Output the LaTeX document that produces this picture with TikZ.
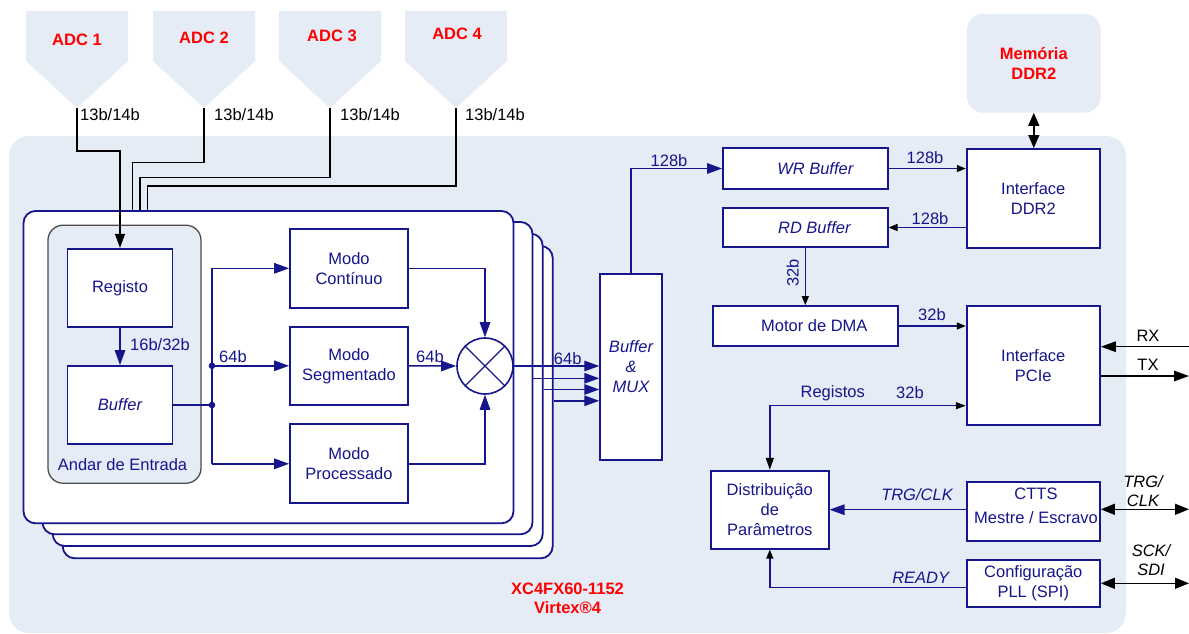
\documentclass[tikz,border=0pt]{standalone}
\usepackage{fontspec}
\setmainfont{Liberation Sans}
\usetikzlibrary{arrows.meta,calc}
\definecolor{navy}{RGB}{22,22,140}
\definecolor{bgblue}{RGB}{230,236,246}
\definecolor{adcred}{RGB}{255,0,0}
\tikzset{
  bgpanel/.style={fill=bgblue,draw=none,inner sep=0pt},
  card/.style={draw=navy,line width=1.8pt,fill=white,rounded corners=12pt,minimum width=490,minimum height=312.3,inner sep=0pt},
  box/.style={draw=navy,line width=1.8pt,fill=white,inner sep=0pt,align=center,text=navy},
  itbox/.style={box,font=\fontsize{16.5}{20}\selectfont\itshape},
  ntxt/.style={text=navy,inner sep=0pt,align=center},
  ktxt/.style={text=black,inner sep=0pt,align=center},
  redb/.style={text=adcred,inner sep=0pt,align=center,font=\fontsize{16.5}{19}\selectfont\bfseries},
  bline/.style={draw=navy,line width=1.4pt},
  kline/.style={draw=black,line width=1.4pt},
  bigN/.style={-{Triangle[length=15pt,width=10.5pt]}},
  smallK/.style={-{Triangle[length=9pt,width=7pt,color=black]}},
}
\begin{document}
\begin{tikzpicture}[x=1pt,y=-1pt,font=\fontsize{16.5}{20}\selectfont]
\useasboundingbox (0,0) rectangle (1189,634);

% backgrounds
\node[bgpanel,minimum width=1117,minimum height=497,rounded corners=20pt] (fpga) at (567.5,384.5) {};
\node[bgpanel,minimum width=133.7,minimum height=98.7,rounded corners=16pt,text=adcred,align=center,font=\fontsize{16.5}{19.3}\selectfont\bfseries] (mem) at (1033.8,63.3) {Memória\\DDR2};

% ADC shapes
\foreach \L in {26,153,279,405}
  \fill[bgblue] (\L,11) -- ++(102,0) -- ++(0,50) -- ++(-51,47) -- ++(-51,-47) -- cycle;
\node[redb] (adc1) at (77,40) {ADC 1};
\node[redb] (adc2) at (204,38.3) {ADC 2};
\node[redb] (adc3) at (332,36) {ADC 3};
\node[redb] (adc4) at (457,34) {ADC 4};
\coordinate (adc1p) at (77,108);
\coordinate (adc2p) at (204,108);
\coordinate (adc3p) at (330,108);
\coordinate (adc4p) at (456,108);
\node[ktxt,anchor=west] (w1) at (80,115) {13b/14b};
\node[ktxt,anchor=west] (w2) at (214,115) {13b/14b};
\node[ktxt,anchor=west] (w3) at (340,115) {13b/14b};
\node[ktxt,anchor=west] (w4) at (465,115) {13b/14b};

% cards
\node[card] (card4) at (307.7,402.15) {};
\node[card] (card3) at (297.7,389.85) {};
\node[card] (card2) at (287.5,378.15) {};
\node[card] (card1) at (268.5,367.15) {};

% input stage
\node[draw=black!70,line width=1.3pt,fill=bgblue,rounded corners=15pt,minimum width=153,minimum height=258,inner sep=0pt] (andar) at (124.5,354.2) {};
\node[ntxt] (andarlbl) at (122.5,464.3) {Andar de Entrada};
\node[box,minimum width=105,minimum height=78.5] (reg) at (120,288) {Registo};
\node[itbox,minimum width=105,minimum height=78] (buf) at (120,405) {Buffer};

% modes
\node[box,minimum width=118,minimum height=78.7] (mc) at (349,268.3) {Modo\\Contínuo};
\node[box,minimum width=118,minimum height=78.3] (ms) at (349,365.8) {Modo\\Segmentado};
\node[box,minimum width=118,minimum height=79] (mp) at (349,463.8) {Modo\\Processado};
\node[circle,draw=navy,line width=1.6pt,fill=white,minimum size=56,inner sep=0pt] (circ) at (485,366) {};
\draw[bline] (circ.north west) -- (circ.south east) (circ.north east) -- (circ.south west);

% right blocks
\node[itbox,minimum width=61.7,minimum height=186] (bmux) at (631,367) {Buffer\\\&\\MUX};
\node[itbox,minimum width=164.7,minimum height=41] (wr) at (805.3,168.5) {\hspace*{20pt}WR Buffer};
\node[itbox,minimum width=164.7,minimum height=39.6] (rd) at (805.3,227.5) {\hspace*{18pt}RD Buffer};
\node[box,minimum width=185.3,minimum height=40] (dma) at (805.3,326) {\hspace*{18pt}Motor de DMA};
\node[box,minimum width=133.3,minimum height=98.7] (ddr) at (1033.3,198.3) {Interface\\DDR2};
\node[box,minimum width=133.3,minimum height=118.7] (pcie) at (1033.3,365.3) {Interface\\PCIe};
\node[box,minimum width=117.7,minimum height=78] (dist) at (769.8,509.7) {Distribuição\\de\\Parâmetros};
\node[box,minimum width=133.3,minimum height=58.7] (ctts) at (1033.3,511.7) {};
\node[ntxt,font=\fontsize{16.5}{23.4}\selectfont] (cttstxt) at (1036,506) {CTTS\\Mestre / Escravo};
\node[box,minimum width=133.3,minimum height=46.7,font=\fontsize{16.5}{20.6}\selectfont] (pll) at (1033.3,583.3) {Configuração\\PLL (SPI)};

% ADC connectors
\draw[kline,-{Triangle[length=14pt,width=10pt]}] (adc1p) |- (120,151) -- (reg.north);
\draw[kline] (adc2p) |- (132.7,162.5) -- (132.7,0 |- card1.north);
\draw[kline] (adc3p) |- (140,177.5) -- (140,0 |- card1.north);
\draw[kline] (adc4p) |- (147.7,186) -- (147.7,0 |- card1.north);

% input stage connectors
\draw[bline,bigN] (reg.south) -- (buf.north);
\node[ntxt,anchor=west] (l16) at (130,345) {16b/32b};
\coordinate (j1) at (mc.west -| 212,0);
\coordinate (j2) at (ms.west -| 212,0);
\coordinate (j3) at (mp.west -| 212,0);
\coordinate (j4) at (buf.east -| 212,0);
\draw[bline] (j1) -- (j3);
\draw[bline] (buf.east) -- (j4);
\draw[bline,bigN] (j1) -- (mc.west);
\draw[bline,bigN] (j2) -- (ms.west);
\draw[bline,bigN] (j3) -- (mp.west);
\fill[navy] (j2) circle (3.3);
\fill[navy] (j4) circle (3.3);
\node[ntxt] (l64a) at (233,356.7) {64b};
\draw[bline,bigN] (mc.east) -| (circ.north);
\draw[bline,bigN] (ms.east) -- (circ.west);
\node[ntxt] (l64b) at (430,356.7) {64b};
\draw[bline,bigN] (mp.east) -| (circ.south);

% to buffer & mux
\draw[bline,bigN] (circ.east) -- (circ.east -| bmux.west);
\draw[bline,bigN] (card2.east |- 0,378.3) -- (bmux.west |- 0,378.3);
\draw[bline,bigN] (card3.east |- 0,389.5) -- (bmux.west |- 0,389.5);
\draw[bline,bigN] (card4.east |- 0,400.8) -- (bmux.west |- 0,400.8);
\node[ntxt] (l64c) at (567.7,358.7) {64b};

% memory path
\draw[bline,bigN] (bmux.north) |- (wr.west);
\node[ntxt] (l128a) at (669,160.7) {128b};
\draw[bline,smallK] (wr.east) -- (wr.east -| ddr.west);
\node[ntxt] (l128b) at (925,158) {128b};
\draw[bline,smallK] (rd.east -| ddr.west) -- (rd.east);
\node[ntxt] (l128c) at (930,219) {128b};
\draw[kline,{Triangle[length=13pt,width=11pt]}-{Triangle[length=13pt,width=11pt]}] (mem.south) -- (mem.south |- ddr.north);
\draw[bline,smallK] (rd.south) -- (dma.north);
\node[ntxt,rotate=90] (l32a) at (792.7,273) {32b};
\draw[bline,smallK] (dma.east) -- (dma.east -| pcie.west);
\node[ntxt] (l32b) at (932,315) {32b};
\draw[bline,{Triangle[length=12pt,width=8pt,color=black]}-{Triangle[length=10pt,width=7pt,color=black]}] (dist.north) |- (pcie.west |- 0,405.7);
\node[ntxt] (lreg) at (832.7,393) {Registos};
\node[ntxt] (l32c) at (910,393) {32b};

% control
\draw[bline,bigN] (ctts.west |- dist.east) -- (dist.east);
\node[ntxt,font=\fontsize{16.5}{20}\selectfont\itshape] (ltrg) at (917,494.3) {TRG/CLK};
\draw[bline,smallK] (pll.west |- 0,587.3) -| (dist.south);
\node[ntxt,font=\fontsize{16.5}{20}\selectfont\itshape] (lready) at (920.7,578.3) {READY};

% external I/O
\coordinate (rxin) at (1189,346.7);
\coordinate (txout) at (1189,376);
\coordinate (trgout) at (1189,509.3);
\coordinate (sckout) at (1189,583.3);
\draw[kline,-{Triangle[length=15pt,width=10.5pt]}] (rxin) -- (pcie.east |- rxin);
\draw[kline,-{Triangle[length=15pt,width=10.5pt]}] (pcie.east |- txout) -- (txout);
\node[ktxt] (lrx) at (1148,336) {RX};
\node[ktxt] (ltx) at (1148,365) {TX};
\draw[kline,{Triangle[length=14pt,width=11pt]}-{Triangle[length=14pt,width=11pt]}] (ctts.east |- trgout) -- (trgout);
\draw[kline,{Triangle[length=14pt,width=11pt]}-{Triangle[length=14pt,width=11pt]}] (pll.east |- sckout) -- (sckout);
\node[ktxt,font=\fontsize{16.5}{19.3}\selectfont\itshape] (ltrgx) at (1143,491.3) {TRG/\\CLK};
\node[ktxt,font=\fontsize{16.5}{19}\selectfont\itshape] (lsck) at (1151,560.5) {SCK/\\SDI};

% chip name
\node[redb] (chip) at (567.5,598.8) {XC4FX60-1152\\Virtex®4};
\end{tikzpicture}
\end{document}
